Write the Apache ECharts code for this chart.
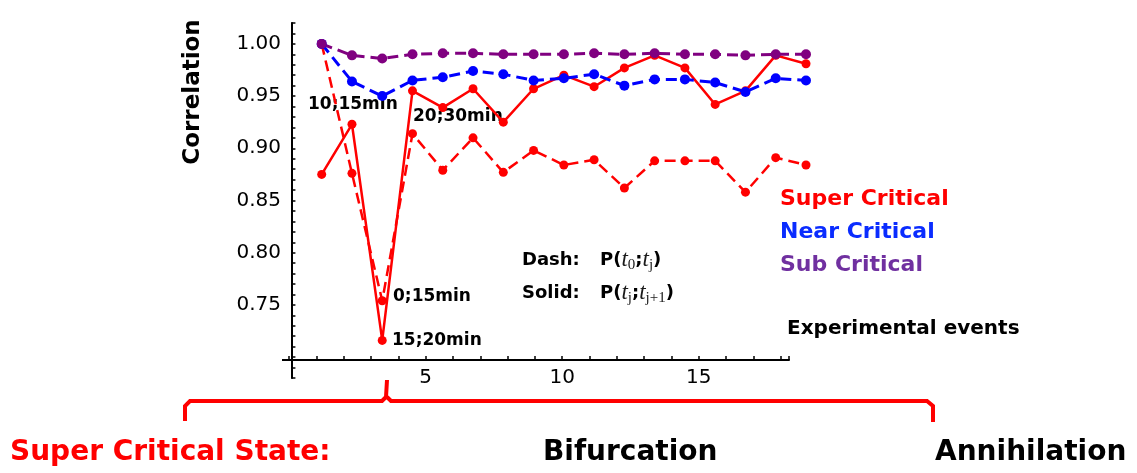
<!DOCTYPE html>
<html>
<head>
<meta charset="utf-8">
<script src="https://cdn.jsdelivr.net/npm/echarts@6/dist/echarts.min.js"></script>
<style>
  html, body { margin: 0; padding: 0; background: #ffffff; }
  #chart { width: 1137px; height: 473px; }
</style>
</head>
<body>
<div id="chart"></div>
<script>
// ---- data ----
const events = [1, 2, 3, 4, 5, 6, 7, 8, 9, 10, 11, 12, 13, 14, 15, 16, 17];
const superSolid  = [0.875, 0.923, 0.716, 0.955, 0.939, 0.957, 0.925, 0.957, 0.970, 0.959, 0.977, 0.989, 0.977, 0.942, 0.955, 0.989, 0.981];
const superDashed = [1.000, 0.876, 0.754, 0.914, 0.879, 0.910, 0.877, 0.898, 0.884, 0.889, 0.862, 0.888, 0.888, 0.888, 0.858, 0.891, 0.884];
const nearDashed  = [1.000, 0.964, 0.950, 0.965, 0.968, 0.974, 0.971, 0.965, 0.967, 0.971, 0.960, 0.966, 0.966, 0.963, 0.954, 0.967, 0.965];
const subDashed   = [1.000, 0.989, 0.986, 0.990, 0.991, 0.991, 0.990, 0.990, 0.990, 0.991, 0.990, 0.991, 0.990, 0.990, 0.989, 0.990, 0.990];
const yTickLabels = [0.75, 0.80, 0.85, 0.90, 0.95, 1.00];
const xTickLabels = [5, 10, 15];
const legendNames = ['Super Critical', 'Near Critical', 'Sub Critical'];
const pointNotes  = ['10;15min', '20;30min', '0;15min', '15;20min'];
const stageNames  = ['Super Critical State:', 'Bifurcation', 'Annihilation'];

const RED = '#ff0000', BLUE = '#0000ff', PURPLE = '#800080';
const pairs = arr => events.map((e, i) => [e, arr[i]]);

function mkSeries(name, arr, color, dashed, width, size) {
  return {
    name: name, type: 'line', xAxisIndex: 0, yAxisIndex: 0,
    data: pairs(arr), symbol: 'circle', symbolSize: size,
    itemStyle: { color: color },
    lineStyle: { color: color, width: width, type: dashed ? [11, 6] : 'solid' },
    animation: false, z: 3
  };
}

const boldFont = 'DejaVu Sans';
const chart = echarts.init(document.getElementById('chart'), null, { renderer: 'canvas' });

const richStyles = {
  b: { fontFamily: boldFont, fontWeight: 'bold', fontSize: 18, fill: '#000', lineHeight: 26 },
  i: { fontFamily: 'Liberation Serif', fontStyle: 'italic', fontSize: 23, fill: '#1a1a1a', lineHeight: 26 },
  s: { fontFamily: 'Liberation Serif', fontSize: 15, fill: '#1a1a1a', lineHeight: 15, verticalAlign: 'bottom' }
};

const option = {
  backgroundColor: '#ffffff',
  animation: false,
  grid: [
    { left: 290, top: 23, width: 540, height: 355 },
    { left: 289, top: 23, width: 500, height: 337 }
  ],
  xAxis: [
    { type: 'value', gridIndex: 0, min: -0.047, max: 17.793, show: false },
    {
      type: 'value', gridIndex: 1, min: 0, max: 18.3, interval: 1,
      axisLine: { show: true, lineStyle: { color: '#000', width: 2 } },
      axisTick: { show: true, inside: true, length: 4, lineStyle: { color: '#000', width: 1.5 } },
      splitLine: { show: false },
      axisLabel: {
        margin: 8, color: '#000', fontFamily: 'DejaVu Sans', fontSize: 20,
        formatter: v => (xTickLabels.indexOf(Math.round(v)) >= 0 && Math.abs(v - Math.round(v)) < 1e-6) ? String(Math.round(v)) : ''
      }
    }
  ],
  yAxis: [
    {
      type: 'value', gridIndex: 0, min: 0.68, max: 1.02, interval: 0.01,
      axisLine: { show: true, lineStyle: { color: '#000', width: 2 } },
      axisTick: { show: true, inside: true, length: 4, lineStyle: { color: '#000', width: 1.5 } },
      splitLine: { show: false },
      axisLabel: {
        margin: 9, color: '#000', fontFamily: 'DejaVu Sans', fontSize: 20,
        formatter: v => {
          const k = Math.round(v * 100);
          if (Math.abs(v * 100 - k) > 1e-4) return '';
          for (const t of yTickLabels) { if (Math.round(t * 100) === k) return t.toFixed(2); }
          return '';
        }
      }
    },
    { type: 'value', gridIndex: 1, min: 0, max: 1, show: false }
  ],
  series: [
    mkSeries('Super solid', superSolid, RED, false, 2.5, 9),
    mkSeries('Super dashed', superDashed, RED, true, 2.5, 9),
    mkSeries(legendNames[1], nearDashed, BLUE, true, 3, 10),
    mkSeries(legendNames[2], subDashed, PURPLE, true, 3, 10)
  ],
  graphic: [
    { type: 'text', x: 193, y: 92, rotation: Math.PI / 2,
      style: { text: 'Correlation', fontFamily: boldFont, fontWeight: 'bold', fontSize: 23, fill: '#000', align: 'center', verticalAlign: 'middle' } },
    { type: 'text', x: 308, y: 105, style: { text: pointNotes[0], fontFamily: boldFont, fontWeight: 'bold', fontSize: 17, fill: '#000', align: 'left', verticalAlign: 'middle' } },
    { type: 'text', x: 413, y: 117, style: { text: pointNotes[1], fontFamily: boldFont, fontWeight: 'bold', fontSize: 17, fill: '#000', align: 'left', verticalAlign: 'middle' } },
    { type: 'text', x: 393, y: 297, style: { text: pointNotes[2], fontFamily: boldFont, fontWeight: 'bold', fontSize: 17, fill: '#000', align: 'left', verticalAlign: 'middle' } },
    { type: 'text', x: 392, y: 341, style: { text: pointNotes[3], fontFamily: boldFont, fontWeight: 'bold', fontSize: 17, fill: '#000', align: 'left', verticalAlign: 'middle' } },
    { type: 'text', x: 780, y: 199, style: { text: legendNames[0], fontFamily: boldFont, fontWeight: 'bold', fontSize: 22, fill: RED, align: 'left', verticalAlign: 'middle' } },
    { type: 'text', x: 780, y: 232, style: { text: legendNames[1], fontFamily: boldFont, fontWeight: 'bold', fontSize: 22, fill: '#0a2cff', align: 'left', verticalAlign: 'middle' } },
    { type: 'text', x: 780, y: 265, style: { text: legendNames[2], fontFamily: boldFont, fontWeight: 'bold', fontSize: 22, fill: '#7030a0', align: 'left', verticalAlign: 'middle' } },
    { type: 'text', x: 787, y: 329, style: { text: 'Experimental events', fontFamily: boldFont, fontWeight: 'bold', fontSize: 20, fill: '#000', align: 'left', verticalAlign: 'middle' } },
    { type: 'text', x: 522, y: 260, style: { text: 'Dash:', fontFamily: boldFont, fontWeight: 'bold', fontSize: 18, fill: '#000', align: 'left', verticalAlign: 'middle' } },
    { type: 'text', x: 522, y: 293, style: { text: 'Solid:', fontFamily: boldFont, fontWeight: 'bold', fontSize: 18, fill: '#000', align: 'left', verticalAlign: 'middle' } },
    { type: 'text', x: 600, y: 260, style: {
        text: '{b|P(}{i|t}{s|0}{b|;}{i|t}{s|j}{b|)}', align: 'left', verticalAlign: 'middle', rich: richStyles } },
    { type: 'text', x: 600, y: 293, style: {
        text: '{b|P(}{i|t}{s|j}{b|;}{i|t}{s|j+1}{b|)}', align: 'left', verticalAlign: 'middle', rich: richStyles } },
    { type: 'line', shape: { x1: 282, y1: 360, x2: 290, y2: 360 }, style: { stroke: '#000', lineWidth: 2 } },
    { type: 'polyline', shape: { points: [[185, 421], [185, 406], [190, 401], [382, 401], [386, 397], [387, 380]] },
      style: { stroke: RED, lineWidth: 4, fill: null } },
    { type: 'polyline', shape: { points: [[387, 397], [391, 401], [927, 401], [933, 406], [933, 422]] },
      style: { stroke: RED, lineWidth: 4, fill: null } },
    { type: 'text', x: 10, y: 453, style: { text: stageNames[0], fontFamily: boldFont, fontWeight: 'bold', fontSize: 28, fill: RED, align: 'left', verticalAlign: 'middle' } },
    { type: 'text', x: 543, y: 453, style: { text: stageNames[1], fontFamily: boldFont, fontWeight: 'bold', fontSize: 28, fill: '#000', align: 'left', verticalAlign: 'middle' } },
    { type: 'text', x: 935, y: 453, style: { text: stageNames[2], fontFamily: boldFont, fontWeight: 'bold', fontSize: 28, fill: '#000', align: 'left', verticalAlign: 'middle' } }
  ]
};
chart.setOption(option);
</script>
</body>
</html>
